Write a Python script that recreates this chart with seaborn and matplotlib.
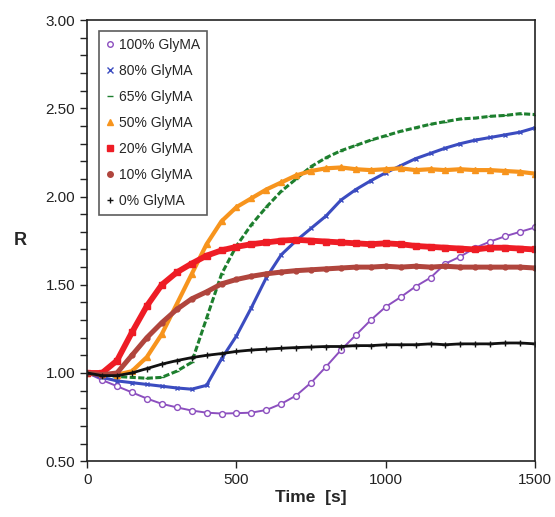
import numpy as np
import pandas as pd
import matplotlib
matplotlib.use("Agg")
import matplotlib.pyplot as plt
from matplotlib.lines import Line2D
from matplotlib.ticker import MultipleLocator, FormatStrFormatter
import seaborn as sns

time_s = [0, 50, 100, 150, 200, 250, 300, 350, 400, 450, 500, 550, 600, 650, 700,
          750, 800, 850, 900, 950, 1000, 1050, 1100, 1150, 1200, 1250, 1300, 1350,
          1400, 1450, 1500]

glyma_100 = [1.00, 0.96, 0.925, 0.89, 0.855, 0.825, 0.805, 0.787, 0.775, 0.770, 0.772,
             0.775, 0.79, 0.825, 0.872, 0.945, 1.035, 1.13, 1.215, 1.30, 1.375, 1.43,
             1.49, 1.54, 1.62, 1.66, 1.71, 1.745, 1.775, 1.80, 1.825]
glyma_80 = [1.00, 0.975, 0.955, 0.945, 0.935, 0.925, 0.915, 0.908, 0.93, 1.08, 1.21,
            1.37, 1.54, 1.67, 1.75, 1.82, 1.89, 1.98, 2.04, 2.09, 2.135, 2.175, 2.215,
            2.245, 2.275, 2.30, 2.32, 2.335, 2.35, 2.365, 2.39]
glyma_65 = [1.00, 0.99, 0.98, 0.975, 0.97, 0.975, 1.01, 1.06, 1.31, 1.56, 1.72, 1.84,
            1.94, 2.03, 2.10, 2.17, 2.22, 2.26, 2.29, 2.32, 2.345, 2.37, 2.39, 2.41,
            2.425, 2.44, 2.445, 2.455, 2.46, 2.47, 2.465]
glyma_50 = [1.00, 0.995, 0.99, 1.01, 1.09, 1.22, 1.39, 1.56, 1.73, 1.86, 1.94, 1.99,
            2.04, 2.08, 2.12, 2.145, 2.16, 2.165, 2.155, 2.15, 2.155, 2.16, 2.15, 2.155,
            2.15, 2.155, 2.15, 2.15, 2.145, 2.14, 2.13]
glyma_20 = [1.00, 1.00, 1.07, 1.23, 1.38, 1.50, 1.57, 1.62, 1.665, 1.695, 1.715, 1.73,
            1.74, 1.75, 1.755, 1.75, 1.745, 1.74, 1.735, 1.73, 1.735, 1.73, 1.72, 1.715,
            1.71, 1.705, 1.70, 1.71, 1.71, 1.705, 1.70]
glyma_10 = [1.00, 0.99, 1.00, 1.10, 1.20, 1.285, 1.36, 1.42, 1.46, 1.505, 1.53, 1.548,
            1.562, 1.572, 1.58, 1.585, 1.59, 1.595, 1.60, 1.60, 1.605, 1.60, 1.605, 1.60,
            1.605, 1.60, 1.60, 1.60, 1.60, 1.60, 1.595]
glyma_0 = [1.00, 0.985, 0.985, 1.00, 1.025, 1.05, 1.07, 1.087, 1.10, 1.11, 1.122, 1.13,
           1.135, 1.14, 1.144, 1.147, 1.15, 1.15, 1.155, 1.155, 1.16, 1.16, 1.16, 1.165,
           1.16, 1.165, 1.165, 1.165, 1.17, 1.17, 1.165]

labels = ["100% GlyMA", "80% GlyMA", "65% GlyMA", "50% GlyMA",
          "20% GlyMA", "10% GlyMA", "0% GlyMA"]
series = [glyma_100, glyma_80, glyma_65, glyma_50, glyma_20, glyma_10, glyma_0]

colors = ["#8c4fbf", "#3b4cc0", "#1d7f2e", "#f7941d", "#ee1c25", "#b0453d", "#111111"]
markers = ["o", "x", "_", "^", "s", "o", "+"]
lws = [1.4, 2.2, 2.2, 3.0, 4.2, 3.6, 2.0]
msizes = [4.2, 3.5, 3.5, 4.5, 4.0, 3.5, 4.5]
lstyles = ["-", "-", (0, (2.0, 0.8)), "-", "-", "-", "-"]

sns.set_theme(style="white")
plt.rcParams["font.family"] = ["Liberation Sans", "DejaVu Sans"]

fig = plt.figure(figsize=(5.55, 5.17), dpi=100)
ax = fig.add_axes([0.157, 0.108, 0.807, 0.853])

for lab, vals, c, m, lw, ms, ls in zip(labels, series, colors, markers, lws, msizes, lstyles):
    df = pd.DataFrame({"t": time_s, "R": vals})
    kw = dict(markerfacecolor="white") if lab == "100% GlyMA" else {}
    sns.lineplot(data=df, x="t", y="R", ax=ax, color=c, linewidth=lw,
                 linestyle=ls, marker=m, markersize=ms, markeredgecolor=c,
                 markeredgewidth=1.0, legend=False, **kw)

ax.set_xlim(0, 1500)
ax.set_ylim(0.5, 3.0)
ax.xaxis.set_major_locator(MultipleLocator(500))
ax.yaxis.set_major_locator(MultipleLocator(0.5))
ax.yaxis.set_minor_locator(MultipleLocator(0.1))
ax.yaxis.set_major_formatter(FormatStrFormatter("%.2f"))
ax.tick_params(axis="both", which="major", direction="out", length=5, width=1,
               labelsize=11, labelcolor="#222222", color="#222222",
               bottom=True, left=True)
ax.tick_params(axis="y", which="minor", direction="out", length=5, width=1,
               color="#222222", left=True)
for sp in ax.spines.values():
    sp.set_color("#222222")
    sp.set_linewidth(1.2)

ax.set_xlabel("Time  [s]", fontsize=12.5, fontweight="bold", labelpad=2)
ax.set_ylabel("R", fontsize=13, fontweight="bold", rotation=0, labelpad=18,
              va="center")

handles = []
for lab, c, m in zip(labels, colors, markers):
    kw = dict(markerfacecolor="none") if lab == "100% GlyMA" else dict(markerfacecolor=c)
    handles.append(Line2D([], [], linestyle="none", marker=m, color=c,
                          markeredgecolor=c, markersize=4, **kw))
leg = ax.legend(handles, labels, loc="upper left", bbox_to_anchor=(0.027, 0.975),
                fontsize=10, frameon=True, fancybox=False, labelspacing=0.86,
                handlelength=0.6, handletextpad=0.3, borderpad=0.5,
                borderaxespad=0.0)
leg.get_frame().set_edgecolor("#333333")
leg.get_frame().set_linewidth(1.2)

fig.savefig("out.png", dpi=100)
